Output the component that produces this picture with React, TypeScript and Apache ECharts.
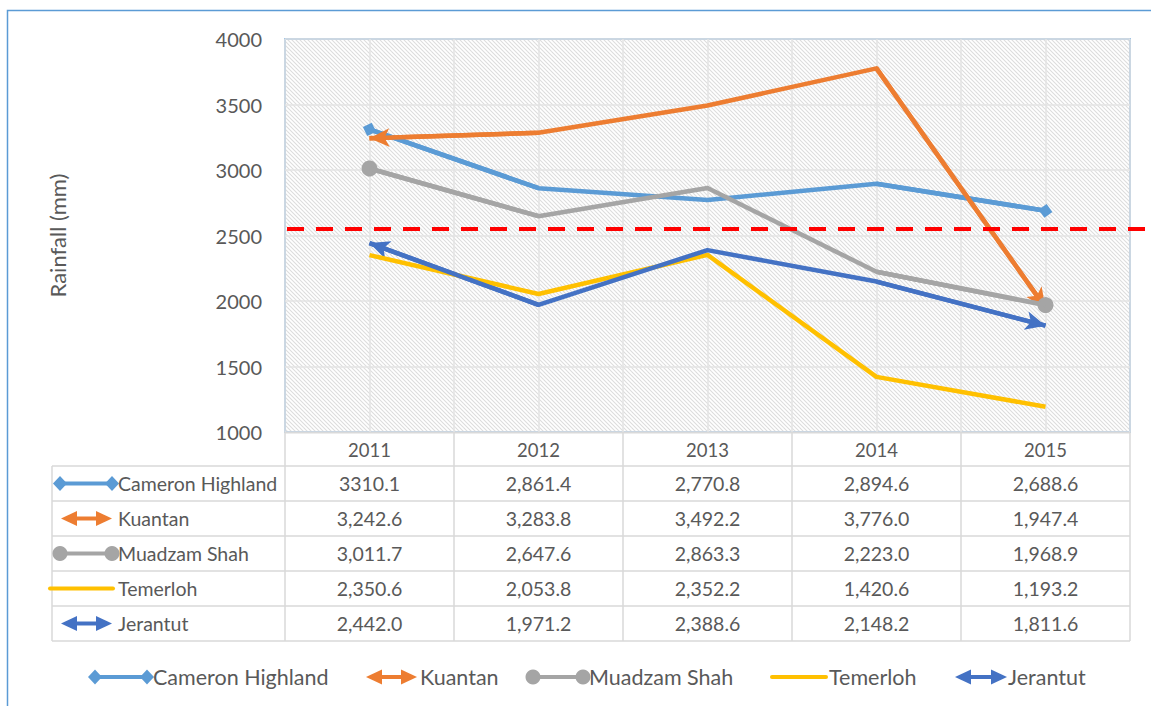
import React, { useEffect, useRef } from "react";
import * as echarts from "echarts";

// ---- data ----
const years = ["2011", "2012", "2013", "2014", "2015"];
const seriesNames = ["Cameron Highland", "Kuantan", "Muadzam Shah", "Temerloh", "Jerantut"];
const cameronHighland = [3310.1, 2861.4, 2770.8, 2894.6, 2688.6];
const kuantan = [3242.6, 3283.8, 3492.2, 3776.0, 1947.4];
const muadzamShah = [3011.7, 2647.6, 2863.3, 2223.0, 1968.9];
const temerloh = [2350.6, 2053.8, 2352.2, 1420.6, 1193.2];
const jerantut = [2442.0, 1971.2, 2388.6, 2148.2, 1811.6];
const referenceLevel = 2550;
const yMin = 1000;
const yMax = 4000;
const yStep = 500;
const yAxisTitle = "Rainfall (mm)";
// cells of the data table printed without thousands separator [row, col]
const plainCells = [[0, 0]];

const allValues = [cameronHighland, kuantan, muadzamShah, temerloh, jerantut];
const colors = ["#5B9BD5", "#ED7D31", "#A5A5A5", "#FFC000", "#4472C4"];
const endKinds = ["diamond", "arrow", "circle", "none", "arrow"];

// ---- layout ----
const GRID = { left: 285, top: 39, width: 845, height: 393 };
const TABLE_LEFT = 52;
const HEADER_H = 34;
const ROW_H = 35;
const FONT = "Lato, 'Open Sans', sans-serif";
const TXT = "#595959";
const TABLE_LINE = "#D9D9D9";

function fmt(v: number, plain: boolean) {
  return v.toLocaleString("en-US", {
    minimumFractionDigits: 1,
    maximumFractionDigits: 1,
    useGrouping: !plain,
  });
}

function hatchPattern() {
  const c = document.createElement("canvas");
  c.width = 8;
  c.height = 8;
  const ctx = c.getContext("2d")!;
  ctx.fillStyle = "#ffffff";
  ctx.fillRect(0, 0, 8, 8);
  ctx.strokeStyle = "#dcdcdc";
  ctx.lineWidth = 1.1;
  for (let k = -8; k <= 8; k += 4) {
    ctx.beginPath();
    ctx.moveTo(-1, k - 1);
    ctx.lineTo(9, k + 9);
    ctx.stroke();
  }
  return { image: c.toDataURL(), repeat: "repeat", imageWidth: 8, imageHeight: 8 };
}

function keyIcon(kind: string, color: string, x0: number, x1: number, y: number): any[] {
  const els: any[] = [];
  const lw = 4;
  if (kind === "arrow") {
    els.push({ type: "line", shape: { x1: x0 + 10, y1: y, x2: x1 - 10, y2: y }, style: { stroke: color, lineWidth: lw } });
    els.push({ type: "polygon", shape: { points: [[x0, y], [x0 + 16, y - 7.5], [x0 + 16, y + 7.5]] }, style: { fill: color } });
    els.push({ type: "polygon", shape: { points: [[x1, y], [x1 - 16, y - 7.5], [x1 - 16, y + 7.5]] }, style: { fill: color } });
  } else {
    els.push({ type: "line", shape: { x1: x0, y1: y, x2: x1, y2: y }, style: { stroke: color, lineWidth: lw, lineCap: kind === "none" ? "round" : "butt" } });
    if (kind === "diamond") {
      for (const cx of [x0, x1]) {
        els.push({ type: "polygon", shape: { points: [[cx - 7, y], [cx, y - 7.5], [cx + 7, y], [cx, y + 7.5]] }, style: { fill: color } });
      }
    } else if (kind === "circle") {
      for (const cx of [x0, x1]) {
        els.push({ type: "circle", shape: { cx, cy: y, r: 7.5 }, style: { fill: color } });
      }
    }
  }
  return els;
}

export default function App() {
  const ref = useRef<HTMLDivElement>(null);
  useEffect(() => {
    if (!ref.current) return;
    const chart = echarts.init(ref.current, null, { renderer: "svg" });

    const series: any[] = seriesNames.map((name, i) => {
      const vals = allValues[i];
      const kind = endKinds[i];
      const s: any = {
        name,
        type: "line",
        data: vals,
        xAxisIndex: 0,
        yAxisIndex: 0,
        showSymbol: false,
        symbol: "none",
        lineStyle: { color: colors[i], width: 4.5, join: "round", cap: "butt" },
        itemStyle: { color: colors[i] },
        z: 3 + i,
      };
      if (kind !== "none") {
        const size = kind === "arrow" ? [14, 20] : kind === "diamond" ? [14, 14] : [16, 16];
        const n = vals.length;
        s.markLine = {
          silent: true,
          animation: false,
          symbol: ["none", "none"],
          symbolSize: size,
          label: { show: false },
          lineStyle: { color: colors[i], width: 4.5, type: "solid", cap: "butt" },
          emphasis: { disabled: true },
          data: [
            [
              { coord: [years[0], vals[0]], symbol: kind, symbolSize: size },
              { coord: [years[1], vals[1]], symbol: "none" },
            ],
            [
              { coord: [years[n - 2], vals[n - 2]], symbol: "none" },
              { coord: [years[n - 1], vals[n - 1]], symbol: kind, symbolSize: size },
            ],
          ],
        };
      }
      return s;
    });

    chart.setOption({
      animation: false,
      textStyle: { fontFamily: FONT },
      grid: {
        left: GRID.left,
        top: GRID.top,
        width: GRID.width,
        height: GRID.height,
        show: true,
        backgroundColor: hatchPattern(),
        borderColor: "#5B9BD5",
        borderWidth: 1.5,
        containLabel: false,
      },
      xAxis: [
        {
          type: "category",
          data: years,
          boundaryGap: true,
          axisLine: { show: false },
          axisTick: { show: false },
          splitLine: { show: false },
          axisLabel: { color: TXT, fontSize: 18.5, margin: 8, fontFamily: FONT },
        },
        {
          type: "value",
          min: 0,
          max: years.length * 2,
          interval: 1,
          position: "top",
          axisLine: { show: false },
          axisTick: { show: false },
          axisLabel: { show: false },
          splitLine: { show: true, lineStyle: { color: "#E3E3E3", width: 1.5 } },
        },
      ],
      yAxis: {
        type: "value",
        min: yMin,
        max: yMax,
        interval: yStep,
        axisLine: { show: false },
        axisTick: { show: false },
        axisLabel: { color: TXT, fontSize: 20, margin: 23, fontFamily: FONT, formatter: (v: number) => String(v) },
        splitLine: { show: true, lineStyle: { color: "#E3E3E3", width: 1.5 } },
      },
      series,
    });

    // ---- graphics: border, table, legend, reference line ----
    const g: any[] = [];
    g.push({
      type: "rect",
      shape: { x: 7.5, y: 10.5, width: 1170, height: 730 },
      style: { fill: "none", stroke: "#5B9BD5", lineWidth: 1.5 },
      silent: true,
      z: 0,
    });

    g.push({
      type: "text",
      x: 57,
      y: GRID.top + GRID.height / 2,
      rotation: Math.PI / 2,
      style: { text: yAxisTitle, fill: TXT, font: `22px ${FONT}`, align: "center", verticalAlign: "middle" },
    });

    const colW = GRID.width / years.length;
    const tTop = GRID.top + GRID.height;
    const rowsTop = tTop + HEADER_H;
    const tBottom = rowsTop + ROW_H * seriesNames.length;
    const right = GRID.left + GRID.width;
    const lineStyle = { stroke: TABLE_LINE, lineWidth: 1.5 };
    g.push({ type: "line", shape: { x1: GRID.left, y1: tTop + 0.75, x2: right, y2: tTop + 0.75 }, style: lineStyle, z: 1 });
    for (let r = 0; r <= seriesNames.length; r++) {
      const y = rowsTop + r * ROW_H;
      g.push({ type: "line", shape: { x1: TABLE_LEFT, y1: y, x2: right, y2: y }, style: lineStyle });
    }
    g.push({ type: "line", shape: { x1: TABLE_LEFT, y1: rowsTop, x2: TABLE_LEFT, y2: tBottom }, style: lineStyle });
    for (let c = 0; c <= years.length; c++) {
      const x = GRID.left + c * colW;
      g.push({ type: "line", shape: { x1: x, y1: tTop, x2: x, y2: tBottom }, style: lineStyle });
    }
    const keyX: number[][] = [
      [60, 112],
      [61, 112],
      [60, 112],
      [50, 113],
      [61, 112],
    ];
    seriesNames.forEach((name, r) => {
      const cy = rowsTop + r * ROW_H + ROW_H / 2;
      g.push(...keyIcon(endKinds[r], colors[r], keyX[r][0], keyX[r][1], cy));
      g.push({
        type: "text",
        x: 118,
        y: cy,
        style: { text: name, fill: TXT, font: `19.5px ${FONT}`, align: "left", verticalAlign: "middle" },
      });
      allValues[r].forEach((v, c) => {
        const plain = plainCells.some((p) => p[0] === r && p[1] === c);
        const cx = chart.convertToPixel({ xAxisIndex: 0 }, years[c]) as number;
        g.push({
          type: "text",
          x: cx,
          y: cy,
          style: { text: fmt(v, plain), fill: TXT, font: `19.5px ${FONT}`, align: "center", verticalAlign: "middle" },
        });
      });
    });

    const legY = 677;
    const legendKeys: number[][] = [
      [95, 147, 153],
      [366, 417, 420],
      [533, 583, 589],
      [772, 826, 829],
      [955, 1007, 1008],
    ];
    seriesNames.forEach((name, i) => {
      const [a, b, tx] = legendKeys[i];
      g.push(...keyIcon(endKinds[i], colors[i], a, b, legY));
      g.push({
        type: "text",
        x: tx,
        y: legY,
        style: { text: name, fill: TXT, font: `21.5px ${FONT}`, align: "left", verticalAlign: "middle" },
      });
    });

    const ry = chart.convertToPixel({ yAxisIndex: 0 }, referenceLevel) as number;
    g.push({
      type: "line",
      shape: { x1: GRID.left + 2, y1: ry, x2: 1151, y2: ry },
      style: { stroke: "#FF0000", lineWidth: 4, lineDash: [17, 12] },
      z: 50,
      silent: true,
    });

    chart.setOption({ graphic: g });

    return () => chart.dispose();
  }, []);
  return <div ref={ref} style={{ position: "fixed", left: 0, top: 0, width: 1151, height: 706, background: "#fff" }} />;
}
